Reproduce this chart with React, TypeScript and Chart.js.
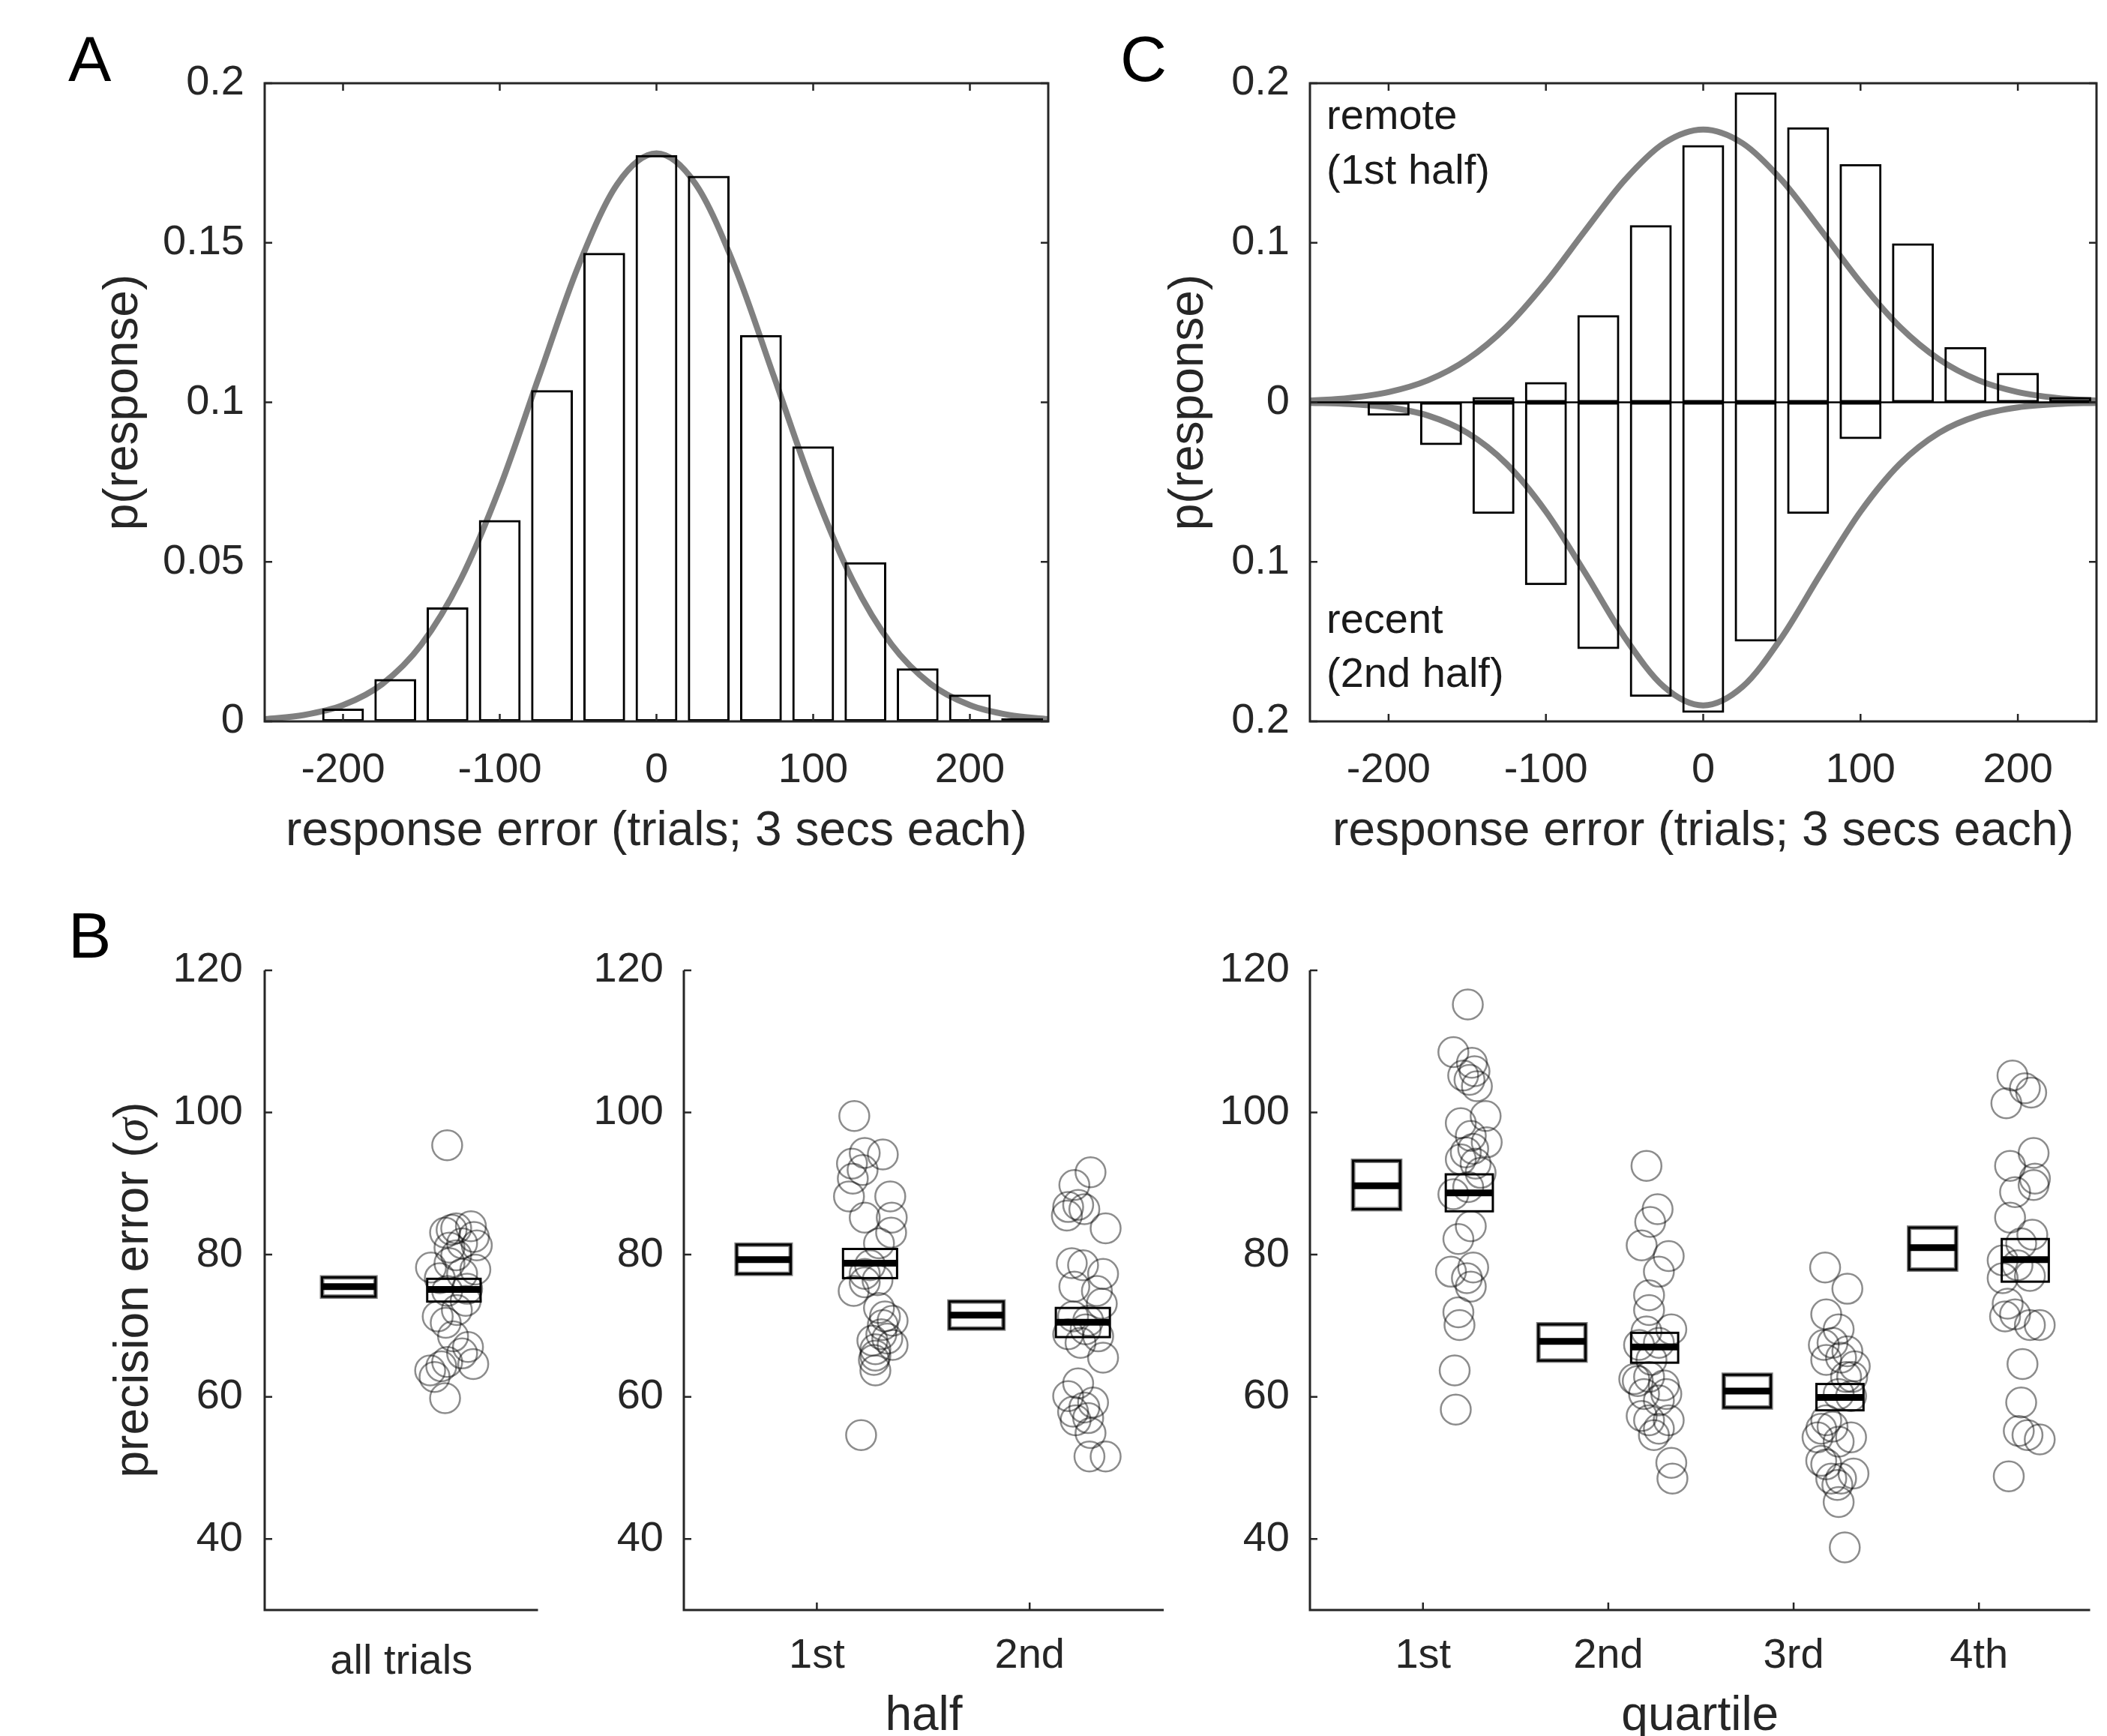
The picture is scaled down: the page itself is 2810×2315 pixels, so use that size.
import React, { useEffect, useRef } from 'react';
import { Chart, registerables } from 'chart.js';

Chart.register(...registerables);

const FONT = "'Liberation Sans', Arial, Helvetica, sans-serif";
const INK = '#262626';

// ---------- Panels A and C: response-error histograms ----------
const binCenters = [-200, -166.67, -133.33, -100, -66.67, -33.33, 0, 33.33, 66.67, 100, 133.33, 166.67, 200, 233.33];
const pAllTrials = [0.004, 0.0133, 0.0357, 0.0631, 0.1038, 0.1468, 0.1775, 0.171, 0.1211, 0.0862, 0.0499, 0.0166, 0.0084, 0.001];
const pRemote = [0, 0, 0.0033, 0.0127, 0.0547, 0.111, 0.1612, 0.1943, 0.1724, 0.1493, 0.0997, 0.0347, 0.0184, 0.0033];
const pRecent = [0.0084, 0.0268, 0.0699, 0.1146, 0.1547, 0.1846, 0.1946, 0.1499, 0.0699, 0.023, 0, 0, 0, 0];

const fitX = [-250, -225, -200, -175, -150, -125, -100, -75, -50, -25, 0, 25, 50, 75, 100, 125, 150, 175, 200, 225, 250];
const fitAllTrials = [0.0007, 0.002, 0.0051, 0.0117, 0.0241, 0.0444, 0.0732, 0.108, 0.1425, 0.1684, 0.178, 0.1684, 0.1425, 0.108, 0.0732, 0.0444, 0.0241, 0.0117, 0.0051, 0.002, 0.0007];
const fitRemote = [0.001, 0.0027, 0.0064, 0.0138, 0.0269, 0.0473, 0.0752, 0.1077, 0.1392, 0.1624, 0.171, 0.1624, 0.1392, 0.1077, 0.0752, 0.0473, 0.0269, 0.0138, 0.0064, 0.0027, 0.001];
const fitRecent = [0.0003, 0.0011, 0.0032, 0.0083, 0.0191, 0.0386, 0.0685, 0.107, 0.1472, 0.1783, 0.19, 0.1783, 0.1472, 0.107, 0.0685, 0.0386, 0.0191, 0.0083, 0.0032, 0.0011, 0.0003];

const errorTicks = [-200, -100, 0, 100, 200];
const pTicksA = [0, 0.05, 0.1, 0.15, 0.2];
const pTicksC = [-0.2, -0.1, 0, 0.1, 0.2];

// ---------- Panel B: precision error ----------
const precisionTicks = [40, 60, 80, 100, 120];
const allTrialsCats = [1];
const allTrialsLabels = ['all trials'];
const halfCats = [1, 2];
const halfLabels = ['1st', '2nd'];
const quartileCats = [1, 2, 3, 4];
const quartileLabels = ['1st', '2nd', '3rd', '4th'];

// [mean, lower, upper]
const allTrialsModel = [[75.5, 74.1, 76.8]];
const allTrialsData = [[75.1, 73.4, 76.6]];
const halfModel = [[79.3, 77.3, 81.4], [71.5, 69.6, 73.4]];
const halfData = [[78.8, 76.7, 80.8], [70.5, 68.4, 72.5]];
const quartileModel = [[89.7, 86.4, 93.2], [67.8, 65.1, 70.2], [60.8, 58.5, 63.1], [81.0, 77.9, 83.8]];
const quartileData = [[88.7, 86.1, 91.3], [67.0, 64.8, 69.0], [59.9, 58.1, 61.8], [79.3, 76.2, 82.2]];

// individual subjects (x = jittered category position, y = precision error)
const allSubjX = [1.218, 1.208, 1.261, 1.331, 1.359, 1.289, 1.229, 1.141, 1.229, 1.352, 1.289, 1.183, 1.313, 1.218, 1.264, 1.173, 1.211, 1.317, 1.289, 1.342, 1.137, 1.19, 1.158, 1.218, 1.208, 1.246, 1.345, 1.261, 1.306, 1.239];
const allSubjY = [95.4, 83.1, 83.7, 84.0, 81.3, 81.6, 81.0, 78.2, 78.8, 77.9, 77.3, 76.7, 75.2, 74.9, 72.2, 71.3, 70.4, 67.0, 66.1, 64.6, 63.7, 64.3, 62.8, 64.9, 59.8, 68.5, 82.5, 79.9, 73.5, 83.5];

const half1X = [1.176, 1.225, 1.31, 1.165, 1.169, 1.215, 1.151, 1.345, 1.225, 1.352, 1.349, 1.292, 1.25, 1.173, 1.225, 1.285, 1.292, 1.356, 1.31, 1.261, 1.331, 1.356, 1.275, 1.268, 1.275, 1.303, 1.208, 1.32, 1.225, 1.275];
const half1Y = [99.5, 94.3, 94.1, 92.8, 90.7, 91.9, 88.2, 88.2, 85.2, 85.2, 83.1, 81.6, 78.5, 74.9, 76.1, 76.4, 72.5, 70.7, 70.1, 67.9, 68.2, 67.3, 66.7, 65.2, 63.7, 68.8, 54.6, 71.3, 77.3, 65.8];
const half2X = [2.286, 2.21, 2.181, 2.257, 2.175, 2.228, 2.357, 2.198, 2.251, 2.345, 2.21, 2.316, 2.339, 2.204, 2.275, 2.181, 2.322, 2.239, 2.345, 2.228, 2.181, 2.204, 2.257, 2.298, 2.275, 2.216, 2.286, 2.281, 2.357, 2.263];
const half2Y = [91.6, 89.8, 86.7, 86.4, 85.5, 87.0, 83.7, 78.8, 78.5, 77.3, 75.5, 74.9, 73.1, 71.3, 70.7, 68.8, 68.5, 67.6, 65.5, 61.9, 60.1, 57.9, 58.5, 59.2, 57.0, 56.7, 54.9, 51.6, 51.6, 69.5];

const q1X = [1.242, 1.164, 1.264, 1.278, 1.251, 1.217, 1.291, 1.204, 1.338, 1.344, 1.258, 1.271, 1.204, 1.284, 1.164, 1.244, 1.258, 1.191, 1.271, 1.151, 1.237, 1.258, 1.191, 1.197, 1.171, 1.177, 1.231, 1.311];
const q1Y = [115.2, 108.5, 107.0, 105.8, 104.6, 105.2, 103.7, 98.5, 99.5, 95.8, 96.7, 94.9, 93.4, 92.8, 88.5, 89.5, 84.0, 82.2, 78.2, 77.6, 76.7, 75.5, 71.9, 70.1, 63.7, 58.2, 94.4, 91.5];
const q2X = [2.206, 2.266, 2.226, 2.18, 2.326, 2.273, 2.22, 2.22, 2.34, 2.206, 2.273, 2.166, 2.159, 2.22, 2.3, 2.14, 2.193, 2.273, 2.22, 2.326, 2.273, 2.246, 2.34, 2.346, 2.313, 2.233, 2.18];
const q2Y = [92.5, 86.4, 84.6, 81.3, 79.8, 77.6, 74.3, 72.2, 69.5, 69.2, 67.6, 67.3, 62.2, 62.8, 61.6, 62.5, 60.4, 59.5, 56.7, 56.7, 55.5, 54.6, 50.7, 48.5, 60.4, 65.2, 57.3];
const q3X = [3.17, 3.29, 3.176, 3.243, 3.163, 3.21, 3.29, 3.256, 3.33, 3.316, 3.176, 3.243, 3.31, 3.149, 3.21, 3.31, 3.149, 3.203, 3.256, 3.323, 3.236, 3.176, 3.243, 3.276, 3.129, 3.243, 3.283, 3.176];
const q3Y = [78.2, 75.2, 71.6, 69.5, 67.3, 67.6, 66.4, 65.5, 64.3, 62.8, 65.2, 60.4, 60.1, 55.5, 55.8, 54.3, 51.0, 48.5, 48.5, 49.2, 47.6, 50.5, 45.2, 38.8, 54.3, 53.7, 62.8, 56.7];
const q4X = [4.181, 4.282, 4.148, 4.248, 4.168, 4.295, 4.302, 4.295, 4.195, 4.168, 4.288, 4.228, 4.128, 4.208, 4.128, 4.275, 4.155, 4.195, 4.141, 4.275, 4.328, 4.235, 4.228, 4.215, 4.262, 4.328, 4.161];
const q4Y = [105.2, 102.8, 101.3, 103.4, 92.5, 94.3, 90.7, 89.8, 88.8, 85.2, 82.8, 81.6, 79.2, 78.5, 76.7, 77.0, 73.1, 71.6, 71.3, 70.1, 70.1, 64.6, 59.2, 55.2, 54.6, 54.0, 48.8];

// ---------- styles ----------
const tickFont = { family: FONT, size: 56 };
const titleFont = { family: FONT, size: 64 };
const BOX_HALF = 0.127;
const BOX_OFFSET = 0.25;

// ---------- plugins ----------
const axesPlugin = {
  id: 'matAxes',
  afterDatasetsDraw(chart: any, _args: any, opts: any) {
    const { ctx, chartArea, scales } = chart;
    const { left, right, top, bottom } = chartArea;
    const x = scales.x, y = scales.y;
    ctx.save();
    if (opts.zeroLine) {
      const y0 = y.getPixelForValue(0);
      ctx.strokeStyle = '#000';
      ctx.lineWidth = 2.5;
      ctx.beginPath();
      ctx.moveTo(left, y0);
      ctx.lineTo(right, y0);
      ctx.stroke();
    }
    ctx.strokeStyle = INK;
    ctx.lineWidth = 3;
    ctx.beginPath();
    if (opts.box) {
      ctx.rect(left, top, right - left, bottom - top);
    } else {
      ctx.moveTo(left, top);
      ctx.lineTo(left, bottom);
      ctx.lineTo(right, bottom);
    }
    ctx.stroke();
    const L = 10;
    ctx.lineWidth = 2.5;
    ctx.beginPath();
    if (opts.xTickMarks !== false) {
      x.ticks.forEach((t: any) => {
        const px = x.getPixelForValue(t.value);
        ctx.moveTo(px, bottom);
        ctx.lineTo(px, bottom - L);
        if (opts.box) {
          ctx.moveTo(px, top);
          ctx.lineTo(px, top + L);
        }
      });
    }
    y.ticks.forEach((t: any) => {
      const py = y.getPixelForValue(t.value);
      ctx.moveTo(left, py);
      ctx.lineTo(left + L, py);
      if (opts.box) {
        ctx.moveTo(right, py);
        ctx.lineTo(right - L, py);
      }
    });
    ctx.stroke();
    ctx.restore();
  },
};

const boxPlugin = {
  id: 'boxes',
  afterDatasetsDraw(chart: any, _args: any, opts: any) {
    if (!opts || !opts.cats) return;
    const { ctx, scales } = chart;
    const x = scales.x, y = scales.y;
    const draw = (cx: number, stat: number[], isModel: boolean) => {
      const [m, lo, hi] = stat;
      const x0 = x.getPixelForValue(cx - BOX_HALF);
      const x1 = x.getPixelForValue(cx + BOX_HALF);
      const yHi = y.getPixelForValue(hi);
      const yLo = y.getPixelForValue(lo);
      const yM = y.getPixelForValue(m);
      ctx.save();
      if (isModel) {
        ctx.fillStyle = '#fff';
        ctx.fillRect(x0, yHi, x1 - x0, yLo - yHi);
        ctx.strokeStyle = 'rgba(0,0,0,0.5)';
        ctx.lineWidth = 6;
        ctx.strokeRect(x0, yHi, x1 - x0, yLo - yHi);
      }
      ctx.strokeStyle = '#000';
      ctx.lineWidth = 3;
      ctx.strokeRect(x0, yHi, x1 - x0, yLo - yHi);
      ctx.lineWidth = 9;
      ctx.beginPath();
      ctx.moveTo(x0, yM);
      ctx.lineTo(x1, yM);
      ctx.stroke();
      ctx.restore();
    };
    opts.cats.forEach((c: number, i: number) => {
      draw(c - BOX_OFFSET, opts.model[i], true);
      draw(c + BOX_OFFSET, opts.data[i], false);
    });
  },
};

const textPlugin = {
  id: 'texts',
  afterDraw(chart: any, _args: any, opts: any) {
    if (!opts || !opts.items) return;
    const ctx = chart.ctx;
    opts.items.forEach((it: any) => {
      ctx.save();
      ctx.translate(it.x, it.y);
      if (it.rotate) ctx.rotate(it.rotate);
      ctx.fillStyle = it.color || INK;
      ctx.textBaseline = it.baseline || 'middle';
      ctx.textAlign = 'left';
      const runs = it.runs || [{ text: it.text }];
      const fontOf = (r: any) => (r.italic ? `italic ${it.size}px 'Liberation Serif', 'DejaVu Serif', serif` : `${it.size}px ${FONT}`);
      let total = 0;
      runs.forEach((r: any) => {
        ctx.font = fontOf(r);
        total += ctx.measureText(r.text).width;
      });
      let px = it.align === 'center' ? -total / 2 : 0;
      runs.forEach((r: any) => {
        ctx.font = fontOf(r);
        ctx.fillText(r.text, px, 0);
        px += ctx.measureText(r.text).width;
      });
      ctx.restore();
    });
  },
};

// ---------- helpers ----------
const fixedTicks = (vals: number[]) => (s: any) => {
  s.ticks = vals.map((v) => ({ value: v }));
};

function baseOptions(padding: any, pluginOpts: any, scales: any) {
  return {
    animation: false,
    responsive: false,
    maintainAspectRatio: false,
    devicePixelRatio: 1,
    events: [],
    layout: { padding },
    plugins: { legend: { display: false }, tooltip: { enabled: false }, ...pluginOpts },
    scales,
  };
}

function xAxis(o: any) {
  return {
    type: 'linear',
    min: o.min,
    max: o.max,
    offset: false,
    grid: { display: false, drawTicks: false },
    border: { display: false },
    afterBuildTicks: fixedTicks(o.ticks),
    afterFit: (s: any) => {
      s.height = o.height;
    },
    ticks: { font: tickFont, color: INK, padding: o.pad, maxRotation: 0, minRotation: 0, autoSkip: false, callback: o.callback },
    title: o.title
      ? { display: true, text: o.title, font: titleFont, color: INK, padding: { top: 0, bottom: o.titlePad } }
      : { display: false },
  };
}

function yAxis(o: any) {
  return {
    type: 'linear',
    min: o.min,
    max: o.max,
    grid: { display: false, drawTicks: false },
    border: { display: false },
    afterBuildTicks: fixedTicks(o.ticks),
    afterFit: (s: any) => {
      s.width = o.width;
    },
    ticks: { font: tickFont, color: INK, padding: o.pad, autoSkip: false, callback: o.callback },
    title: o.title
      ? { display: true, text: o.title, font: titleFont, color: INK, padding: { top: o.titlePad, bottom: 0 } }
      : { display: false },
  };
}

const curveStyle = { borderColor: '#808080', borderWidth: 8, pointRadius: 0, cubicInterpolationMode: 'monotone', fill: false, order: 1 };
const barStyle = { backgroundColor: 'rgba(255,255,255,0)', borderColor: '#000', borderWidth: 3, borderSkipped: false, barPercentage: 0.8, categoryPercentage: 1, grouped: false, order: 0 };
const subjStyle = { pointRadius: 20, pointBorderWidth: 2.5, pointBorderColor: 'rgba(0,0,0,0.45)', pointBackgroundColor: 'rgba(0,0,0,0)', pointStyle: 'circle', showLine: false };

// ---------- chart configs ----------
function makeA() {
  return {
    type: 'bar',
    data: {
      datasets: [
        { type: 'bar', label: 'all trials', data: binCenters.map((x, i) => ({ x, y: pAllTrials[i] })), ...barStyle },
        { type: 'line', label: 'fit', data: fitX.map((x, i) => ({ x, y: fitAllTrials[i] })), ...curveStyle },
      ],
    },
    options: baseOptions(
      { left: 0, top: 111, right: 22, bottom: 0 },
      {
        matAxes: { box: true },
        texts: { items: [{ text: 'A', x: 91, y: 108, size: 86, baseline: 'alphabetic', color: '#000' }] },
      },
      {
        x: xAxis({ min: -250, max: 250, ticks: errorTicks, height: 218, pad: 32, callback: (v: number) => String(v), title: 'response error (trials; 3 secs each)', titlePad: 32 }),
        y: yAxis({ min: 0, max: 0.2, ticks: pTicksA, width: 353, pad: 27, callback: (v: number) => String(v), title: 'p(response)', titlePad: 127 }),
      }
    ),
    plugins: [axesPlugin, textPlugin],
  };
}

function makeC() {
  return {
    type: 'bar',
    data: {
      datasets: [
        { type: 'bar', label: 'remote (1st half)', data: binCenters.map((x, i) => ({ x, y: [0, pRemote[i]] })), ...barStyle },
        { type: 'bar', label: 'recent (2nd half)', data: binCenters.map((x, i) => ({ x, y: [-pRecent[i], 0] })), ...barStyle },
        { type: 'line', label: 'remote fit', data: fitX.map((x, i) => ({ x, y: fitRemote[i] })), ...curveStyle },
        { type: 'line', label: 'recent fit', data: fitX.map((x, i) => ({ x, y: -fitRecent[i] })), ...curveStyle },
      ],
    },
    options: baseOptions(
      { left: 0, top: 111, right: 14, bottom: 0 },
      {
        matAxes: { box: true, zeroLine: true },
        texts: {
          items: [
            { text: 'C', x: 64, y: 108, size: 86, baseline: 'alphabetic', color: '#000' },
            { text: 'remote', x: 339, y: 157, size: 56, color: '#1a1a1a' },
            { text: '(1st half)', x: 339, y: 230, size: 56, color: '#1a1a1a' },
            { text: 'recent', x: 339, y: 829, size: 56, color: '#1a1a1a' },
            { text: '(2nd half)', x: 339, y: 901, size: 56, color: '#1a1a1a' },
          ],
        },
      },
      {
        x: xAxis({ min: -250, max: 250, ticks: errorTicks, height: 218, pad: 32, callback: (v: number) => String(v), title: 'response error (trials; 3 secs each)', titlePad: 32 }),
        y: yAxis({ min: -0.2, max: 0.2, ticks: pTicksC, width: 317, pad: 27, callback: (v: number) => String(Math.abs(v)), title: 'p(response)', titlePad: 118 }),
      }
    ),
    plugins: [axesPlugin, textPlugin],
  };
}

function makeB(o: any) {
  return {
    type: 'scatter',
    data: {
      datasets: o.groups.map((g: any) => ({
        type: 'scatter',
        label: g.label,
        data: g.xs.map((x: number, i: number) => ({ x, y: g.ys[i] })),
        ...subjStyle,
      })),
    },
    options: baseOptions(
      { left: 0, top: 114, right: o.right, bottom: 0 },
      {
        matAxes: { box: false, xTickMarks: o.xTickMarks },
        boxes: { cats: o.cats, model: o.model, data: o.data },
        texts: { items: o.texts },
      },
      {
        x: xAxis({ min: o.xmin, max: o.xmax, ticks: o.cats, height: 193, pad: o.xPad || 28, callback: (_v: number, i: number) => o.labels[i], title: o.xTitle, titlePad: 12 }),
        y: yAxis({ min: 30, max: 120, ticks: precisionTicks, width: o.yWidth, pad: o.yPad, callback: (v: number) => String(v) }),
      }
    ),
    plugins: [axesPlugin, boxPlugin, textPlugin],
  };
}

function makeB1() {
  return makeB({
    groups: [{ label: 'all trials', xs: allSubjX, ys: allSubjY }],
    cats: allTrialsCats,
    labels: allTrialsLabels,
    model: allTrialsModel,
    data: allTrialsData,
    xmin: 0.35,
    xmax: 1.65,
    right: 18,
    yWidth: 353,
    yPad: 29,
    xPad: 36,
    xTickMarks: false,
    texts: [
      { text: 'B', x: 91, y: 97, size: 86, baseline: 'alphabetic', color: '#000' },
      {
        runs: [{ text: 'precision error (' }, { text: 'σ', italic: true }, { text: ')' }],
        x: 179,
        y: 540,
        size: 64,
        rotate: -Math.PI / 2,
        align: 'center',
      },
    ],
  });
}

function makeB2() {
  return makeB({
    groups: [
      { label: '1st half', xs: half1X, ys: half1Y },
      { label: '2nd half', xs: half2X, ys: half2Y },
    ],
    cats: halfCats,
    labels: halfLabels,
    model: halfModel,
    data: halfData,
    xmin: 0.375,
    xmax: 2.63,
    right: 28,
    yWidth: 152,
    yPad: 27,
    xTitle: 'half',
    texts: [],
  });
}

function makeB3() {
  return makeB({
    groups: [
      { label: '1st quartile', xs: q1X, ys: q1Y },
      { label: '2nd quartile', xs: q2X, ys: q2Y },
      { label: '3rd quartile', xs: q3X, ys: q3Y },
      { label: '4th quartile', xs: q4X, ys: q4Y },
    ],
    cats: quartileCats,
    labels: quartileLabels,
    model: quartileModel,
    data: quartileData,
    xmin: 0.39,
    xmax: 4.6,
    right: 14,
    yWidth: 147,
    yPad: 27,
    xTitle: 'quartile',
    texts: [],
  });
}

function ChartCanvas({ make, left, top, width, height }: any) {
  const ref = useRef<HTMLCanvasElement | null>(null);
  useEffect(() => {
    if (!ref.current) return;
    const chart = new Chart(ref.current, make() as any);
    return () => chart.destroy();
  }, [make]);
  return (
    <canvas
      ref={ref}
      width={width}
      height={height}
      style={{ position: 'absolute', left, top, width, height }}
    />
  );
}

export default function App() {
  return (
    <div style={{ position: 'absolute', left: 0, top: 0, width: 2810, height: 2315, overflow: 'hidden', background: '#fff' }}>
      <ChartCanvas make={makeA} left={0} top={0} width={1420} height={1180} />
      <ChartCanvas make={makeC} left={1430} top={0} width={1380} height={1180} />
      <ChartCanvas make={makeB1} left={0} top={1180} width={740} height={1160} />
      <ChartCanvas make={makeB2} left={760} top={1180} width={820} height={1160} />
      <ChartCanvas make={makeB3} left={1600} top={1180} width={1210} height={1160} />
    </div>
  );
}
